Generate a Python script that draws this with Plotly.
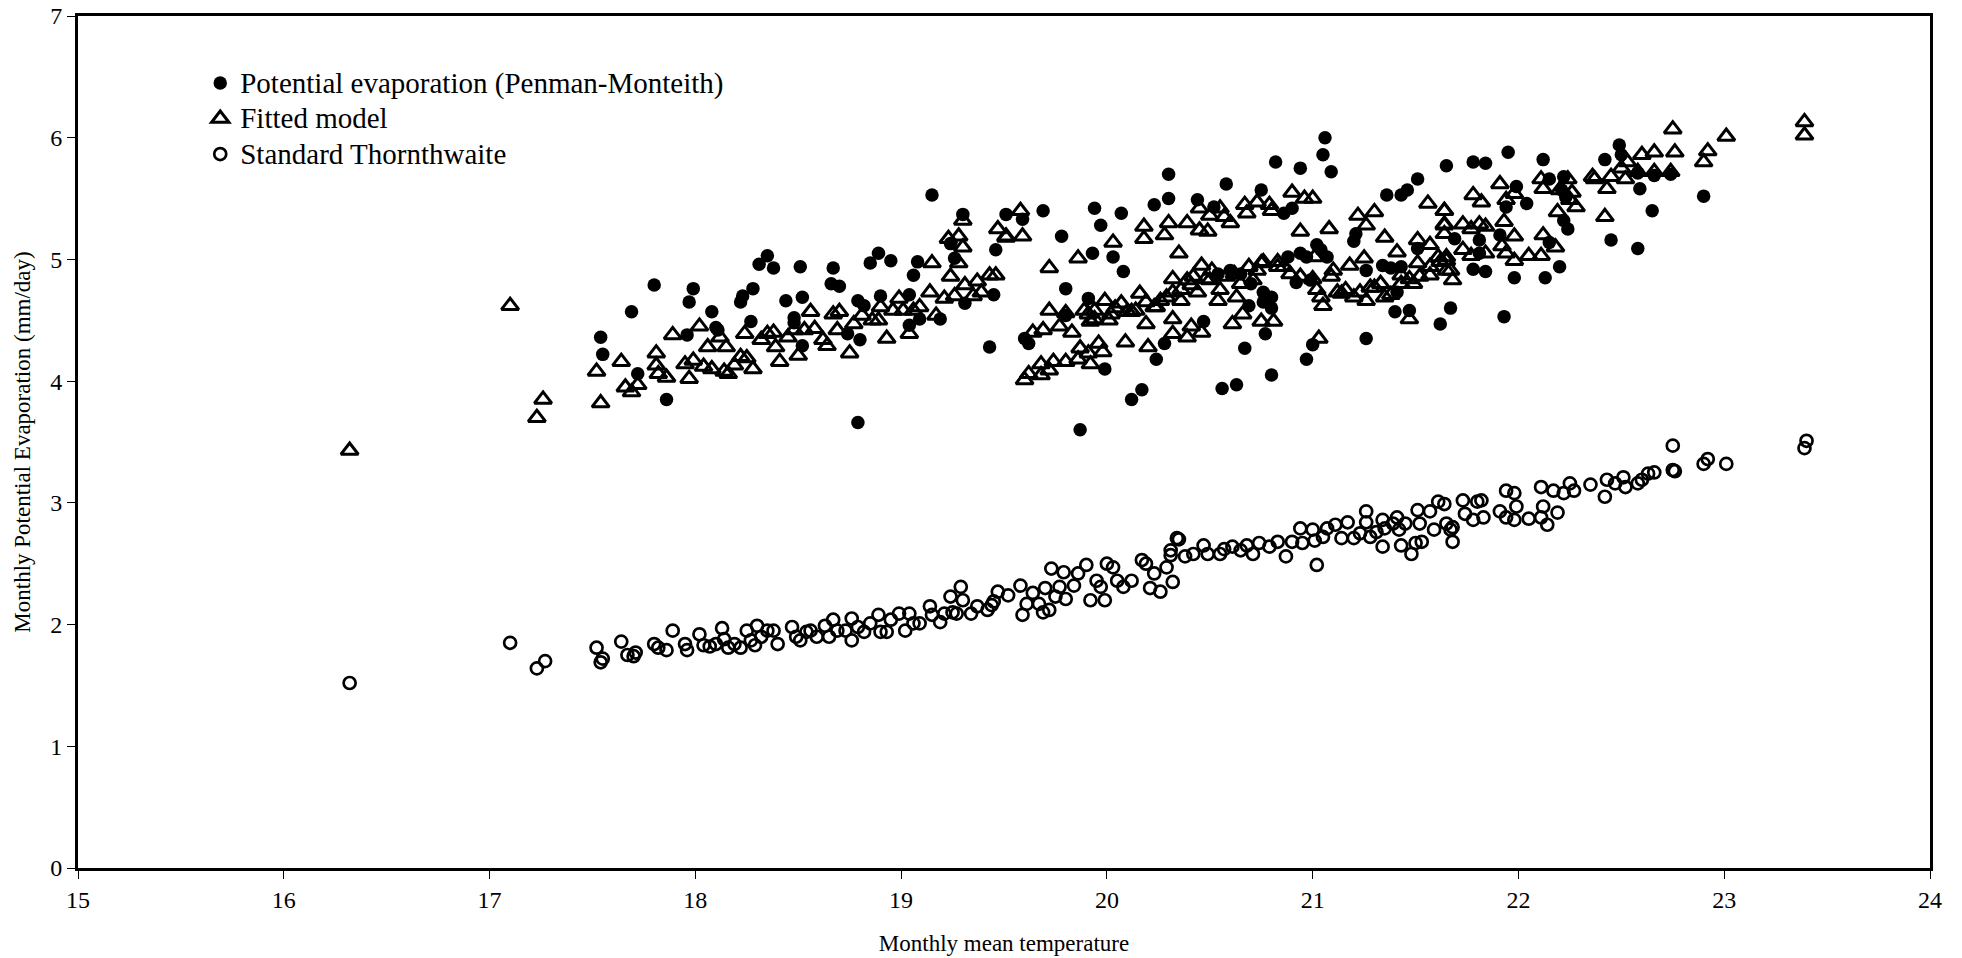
import plotly.graph_objects as go

# ---------------- data ----------------
pm_temp = [17.54, 17.55, 17.69, 17.80, 17.72, 17.86, 17.96, 17.97, 17.99, 18.08, 18.10, 18.11,
           18.22, 18.23, 18.27, 18.28, 18.31, 18.35, 18.38, 18.44, 18.48, 18.48, 18.51, 18.52,
           18.52, 18.66, 18.67, 18.70, 18.74, 18.79, 18.79, 18.80, 18.82, 18.85, 18.89, 18.90,
           18.95, 19.04, 19.04, 19.06, 19.08, 19.09, 19.15, 19.19, 19.24, 19.26, 19.30, 19.31,
           19.43, 19.45, 19.46, 19.51,
           19.59, 19.60, 19.62, 19.69, 19.78, 19.80, 19.80, 19.87, 19.91, 19.93, 19.94, 19.97,
           19.99, 20.03, 20.07, 20.08, 20.12, 20.17, 20.23, 20.24, 20.28, 20.30, 20.30, 20.44,
           20.47, 20.52, 20.54, 20.56, 20.58, 20.60, 20.63, 20.65, 20.67, 20.69, 20.70, 20.75,
           20.76, 20.76, 20.77, 20.80, 20.80, 20.80, 20.82, 20.86, 20.88, 20.90, 20.92, 20.94,
           20.94, 20.97, 20.97, 20.99, 21.00, 21.02, 21.04, 21.05, 21.06, 21.07, 21.09, 21.20,
           21.21, 21.26, 21.26, 21.34, 21.36, 21.38, 21.40, 21.41, 21.43, 21.43, 21.46, 21.47,
           21.51, 21.51, 21.62, 21.65, 21.67,
           21.69, 21.78, 21.78, 21.81, 21.81, 21.84, 21.84, 21.91, 21.93, 21.94, 21.95, 21.98,
           21.99, 22.04, 22.12, 22.13, 22.15, 22.15, 22.20, 22.21, 22.22, 22.22, 22.23, 22.24,
           22.42, 22.45, 22.49, 22.50, 22.58, 22.58, 22.59, 22.65, 22.66, 22.74, 22.90]
pm_evap = [4.36, 4.22, 4.57, 4.79, 4.06, 3.85, 4.38, 4.65, 4.76, 4.57, 4.44, 4.42,
           4.65, 4.70, 4.49, 4.76, 4.96, 5.03, 4.93, 4.66, 4.52, 4.48, 4.94, 4.69,
           4.29, 4.80, 4.93, 4.78, 4.39, 4.66, 3.66, 4.34, 4.62, 4.97, 5.05, 4.70,
           4.99, 4.71, 4.46, 4.87, 4.98, 4.51, 5.53, 4.51, 5.13, 5.01, 5.37, 4.64,
           4.28, 4.71, 5.08, 5.37,
           5.33, 4.35, 4.31, 5.40, 5.19, 4.76, 4.54, 3.60, 4.68, 5.05, 5.42, 5.28,
           4.10, 5.02, 5.38, 4.90, 3.85, 3.93, 5.45, 4.18, 4.31, 5.70, 5.50, 5.49,
           4.49, 5.43, 4.88, 3.94, 5.62, 4.91, 3.97, 4.88, 4.27, 4.62, 4.80, 5.57,
           4.65, 4.73, 4.39, 4.60, 4.05, 4.69, 5.80, 5.38, 5.02, 5.42, 4.81, 5.75,
           5.05, 4.18, 5.02, 4.83, 4.30, 5.12, 5.08, 5.86, 6.00, 5.02, 5.72, 5.15,
           5.21, 4.35, 4.91, 4.95, 5.53, 4.93, 4.57, 4.73, 4.94, 5.53, 5.57, 4.58,
           5.66, 5.09, 4.47, 5.77, 4.60,
           5.17, 5.80, 4.92, 5.16, 5.05, 4.90, 5.79, 5.20, 4.53, 5.43, 5.88, 4.85,
           5.60, 5.46, 5.82, 4.85, 5.14, 5.66, 4.94, 5.57, 5.68, 5.32, 5.51, 5.25,
           5.82, 5.16, 5.94, 5.86, 5.09, 5.71, 5.58, 5.40, 5.69, 5.70, 5.52]

fit_temp = [16.32, 17.10, 17.23, 17.26,
            17.52, 17.54, 17.64, 17.66, 17.69, 17.72, 17.81, 17.81, 17.82, 17.86, 17.89, 17.97,
            17.95, 17.99, 18.02, 18.04, 18.06, 18.08, 18.12, 18.15, 18.14, 18.16, 18.19, 18.22,
            18.24, 18.25, 18.28, 18.32, 18.35, 18.38, 18.39, 18.41, 18.45, 18.48, 18.50, 18.53,
            18.56, 18.58, 18.62, 18.64, 18.67, 18.69, 18.70, 18.75, 18.77, 18.81, 18.86, 18.89,
            18.90, 18.93, 18.96, 18.99, 19.01, 19.04, 19.06, 19.09, 19.14, 19.15, 19.17, 19.21,
            19.23, 19.24, 19.26, 19.28, 19.28, 19.30, 19.30, 19.31, 19.35, 19.37, 19.39, 19.43,
            19.46, 19.47, 19.51,
            19.58, 19.51, 19.59, 19.72, 19.86, 20.03, 19.72, 19.80, 19.77, 19.83, 19.64, 19.69,
            19.60, 19.62, 19.68, 19.68, 19.72, 19.74, 19.80, 19.87, 19.86, 19.91, 19.92, 19.96,
            19.98, 19.91, 19.92, 19.94, 19.99, 20.02, 20.04, 20.07, 20.09, 20.12, 20.16, 20.19,
            20.19, 20.20, 20.24, 20.18, 20.18, 20.28, 20.30, 20.32, 20.32, 20.32, 20.35, 20.36,
            20.39, 20.39, 20.41, 20.42, 20.45, 20.45, 20.46, 20.46, 20.49, 20.50, 20.50, 20.54,
            20.55, 20.57, 20.60, 20.61, 20.63, 20.66, 20.67, 20.68, 20.71, 20.73, 20.75, 20.75,
            20.79, 20.80, 20.81, 20.83, 20.90, 20.94, 20.96, 21.00, 21.01, 21.02, 21.05, 21.03,
            21.08, 21.10, 21.14, 21.18, 21.20, 21.22, 21.25, 21.26, 21.26, 21.30, 21.30, 21.35,
            21.35, 21.41, 21.43, 21.47, 21.49, 21.51, 21.51, 21.56, 21.57, 21.57, 21.61, 21.64,
            21.64, 21.65,
            20.29, 20.32, 20.36, 20.39, 20.41, 20.44, 20.48, 20.51, 20.55, 20.58, 20.62, 20.65,
            20.69, 20.73, 20.76, 20.83, 20.86, 20.89, 20.94, 21.00, 21.04, 21.09, 21.12, 21.16,
            21.23, 21.28, 21.33, 21.38, 21.43, 21.47, 21.52, 21.57, 21.62, 21.65,
            19.89, 19.94, 20.01, 20.10, 20.14, 20.23, 20.26,
            21.64, 21.64, 21.64, 21.73, 21.77, 21.81, 21.84, 21.73, 21.77, 21.84, 21.65, 21.67,
            21.68, 21.78, 21.82, 21.91, 21.93, 21.94, 21.98, 21.98, 21.92, 21.94, 21.98, 22.05,
            22.11, 22.12, 22.11, 22.12, 22.18, 22.19, 22.20, 22.24, 22.26, 22.28, 22.25, 22.36,
            22.37, 22.42, 22.43, 22.45, 22.50, 22.52, 22.53, 22.58, 22.60, 22.66, 22.66, 22.74,
            22.75, 22.76, 22.90, 22.92, 23.01, 23.39, 23.39]
fit_evap = [3.43, 4.62, 3.70, 3.85,
            4.08, 3.82, 4.16, 3.95, 3.91, 3.97, 4.23, 4.13, 4.06, 4.03, 4.38, 4.02,
            4.14, 4.17, 4.45, 4.12, 4.28, 4.10, 4.36, 4.28, 4.08, 4.06, 4.13, 4.20,
            4.39, 4.19, 4.10, 4.34, 4.39, 4.40, 4.28, 4.16, 4.36, 4.42, 4.21, 4.42,
            4.57, 4.43, 4.34, 4.29, 4.55, 4.42, 4.57, 4.23, 4.47, 4.54, 4.50, 4.50,
            4.61, 4.35, 4.58, 4.68, 4.58, 4.39, 4.58, 4.61, 4.73, 4.97, 4.54, 4.68,
            5.17, 4.86, 4.70, 5.19, 4.97, 5.32, 5.10, 4.79, 4.70, 4.82, 4.73, 4.87,
            4.87, 5.25, 5.18,
            5.40, 5.19, 5.19, 4.93, 5.01, 5.14, 4.58, 4.56, 4.45, 4.40, 4.40, 4.42,
            4.01, 4.06, 4.14, 4.05, 4.09, 4.16, 4.16, 4.27, 4.18, 4.23, 4.14, 4.31,
            4.24, 4.55, 4.49, 4.58, 4.66, 4.55, 4.60, 4.64, 4.32, 4.57, 4.72, 4.65,
            4.47, 4.28, 4.61, 5.27, 5.17, 5.20, 5.30, 4.84, 4.51, 4.39, 5.05, 4.75,
            5.30, 4.36, 4.45, 4.86, 5.42, 5.24, 4.95, 4.40, 5.23, 5.36, 4.83, 4.66,
            5.42, 5.35, 5.30, 4.47, 4.69, 4.55, 5.45, 5.38, 4.83, 5.47, 4.97, 4.49,
            5.45, 5.40, 4.49, 4.94, 5.55, 5.23, 5.50, 5.50, 5.02, 4.75, 4.62, 4.35,
            5.25, 4.91, 4.72, 4.95, 4.69, 5.36, 5.01, 5.28, 4.66, 5.39, 4.77, 5.18,
            4.69, 5.06, 4.87, 4.51, 4.80, 5.16, 4.97, 5.46, 5.12, 4.87, 5.02, 5.40,
            5.28, 4.91,
            4.69, 4.73, 4.66, 4.83, 4.79, 4.73, 4.84, 4.91, 4.75, 4.86, 4.88, 4.80,
            4.94, 4.91, 4.98, 4.98, 4.94, 4.88, 4.86, 4.84, 4.69, 4.86, 4.73, 4.75,
            4.73, 4.77, 4.80, 4.71, 4.80, 4.84, 4.86, 4.94, 4.98, 5.02,
            4.58, 4.51, 4.50, 4.57, 4.58, 4.61, 4.66,
            5.40, 5.29, 5.21, 5.29, 5.25, 5.29, 5.27, 5.08, 5.03, 5.05, 4.99, 4.91,
            4.83, 5.53, 5.47, 5.62, 5.31, 5.49, 5.54, 5.19, 5.11, 5.05, 4.99, 5.03,
            5.03, 5.20, 5.66, 5.58, 5.10, 5.39, 5.57, 5.66, 5.55, 5.43, 5.49, 5.68,
            5.66, 5.35, 5.58, 5.68, 5.75, 5.66, 5.80, 5.72, 5.86, 5.72, 5.88, 5.72,
            6.07, 5.88, 5.80, 5.89, 6.01, 6.13, 6.02]

thw_temp = [16.32, 17.10, 17.23, 17.27,
            17.52, 17.54, 17.55, 17.64, 17.67, 17.70, 17.71, 17.80, 17.82, 17.86, 17.89, 17.95,
            17.96, 18.02, 18.04, 18.07, 18.10, 18.13, 18.14, 18.16, 18.19, 18.22, 18.25, 18.27,
            18.29, 18.30, 18.32, 18.35, 18.38, 18.40,
            18.47, 18.49, 18.51, 18.54, 18.56, 18.59, 18.63, 18.65, 18.67, 18.69, 18.73, 18.76,
            18.76, 18.79, 18.82, 18.85, 18.89, 18.90, 18.93, 18.95, 18.99, 19.02, 19.04, 19.06,
            19.09, 19.14, 19.15, 19.19, 19.21, 19.25, 19.27, 19.24, 19.29, 19.30, 19.34, 19.37,
            19.42, 19.44, 19.45, 19.47, 19.52, 19.58, 19.59, 19.61, 19.64, 19.67, 19.69, 19.72,
            19.70, 19.73, 19.75, 19.77, 19.79, 19.80, 19.84, 19.86, 19.90, 19.92, 19.95, 19.97,
            19.99, 20.00, 20.03, 20.05, 20.08, 20.12, 20.17, 20.19, 20.21, 20.23, 20.26, 20.29,
            20.31, 20.32, 20.34,
            20.35, 20.31, 20.38, 20.42, 20.47, 20.49, 20.55, 20.57, 20.61, 20.65, 20.68, 20.71,
            20.74, 20.79, 20.83, 20.87, 20.90, 20.94, 20.95, 21.00, 21.01, 21.02, 21.05, 21.07,
            21.11, 21.14, 21.17, 21.20, 21.23, 21.26, 21.26, 21.28, 21.31, 21.34, 21.35, 21.34,
            21.39, 21.41, 21.42, 21.43, 21.45, 21.48, 21.50, 21.51, 21.52, 21.53, 21.57, 21.59,
            21.61, 21.64, 21.65, 21.67, 21.68, 21.68, 21.73, 21.74, 21.78, 21.80, 21.82, 21.83,
            21.91, 21.94, 21.94, 21.98, 21.98, 21.99, 22.05, 22.11, 22.12, 22.11, 22.14, 22.19,
            22.17, 22.22, 22.25, 22.27, 22.35, 22.42, 22.43, 22.47, 22.51, 22.52, 22.58, 22.60,
            22.63, 22.66, 22.75, 22.75, 22.76, 22.90, 22.92, 23.01, 23.39, 23.40]
thw_evap = [1.52, 1.85, 1.64, 1.70,
            1.81, 1.69, 1.72, 1.86, 1.75, 1.74, 1.77, 1.84, 1.81, 1.79, 1.95, 1.84,
            1.79, 1.92, 1.83, 1.82, 1.84, 1.97, 1.88, 1.81, 1.84, 1.81, 1.95, 1.87,
            1.83, 1.99, 1.90, 1.95, 1.95, 1.84,
            1.98, 1.90, 1.87, 1.94, 1.95, 1.90, 1.99, 1.90, 2.04, 1.95, 1.95, 2.05,
            1.87, 1.98, 1.94, 2.01, 2.08, 1.94, 1.94, 2.04, 2.09, 1.95, 2.09, 2.01,
            2.01, 2.15, 2.08, 2.02, 2.09, 2.10, 2.09, 2.23, 2.31, 2.20, 2.09, 2.15,
            2.12, 2.16, 2.19, 2.27, 2.24, 2.32, 2.08, 2.17, 2.26, 2.17, 2.10, 2.12,
            2.30, 2.46, 2.23, 2.31, 2.43, 2.21, 2.32, 2.42, 2.49, 2.20, 2.36, 2.31,
            2.20, 2.50, 2.47, 2.36, 2.31, 2.36, 2.53, 2.50, 2.30, 2.42, 2.27, 2.47,
            2.57, 2.35, 2.71,
            2.70, 2.61, 2.56, 2.58, 2.65, 2.58, 2.58, 2.62, 2.64, 2.61, 2.65, 2.58,
            2.67, 2.64, 2.68, 2.56, 2.68, 2.79, 2.67, 2.78, 2.69, 2.49, 2.72, 2.79,
            2.82, 2.71, 2.84, 2.71, 2.75, 2.93, 2.84, 2.72, 2.76, 2.86, 2.79, 2.64,
            2.83, 2.88, 2.78, 2.65, 2.83, 2.58, 2.67, 2.94, 2.83, 2.68, 2.93, 2.78,
            3.01, 2.99, 2.83, 2.78, 2.80, 2.68, 3.02, 2.91, 2.86, 3.01, 3.02, 2.88,
            2.93, 3.10, 2.88, 3.08, 2.86, 2.97, 2.87, 3.13, 2.97, 2.88, 2.82, 2.92,
            3.10, 3.08, 3.16, 3.10, 3.15, 3.05, 3.19, 3.16, 3.21, 3.13, 3.16, 3.19,
            3.24, 3.25, 3.47, 3.27, 3.26, 3.32, 3.36, 3.32, 3.45, 3.51]

series_names = ["Potential evaporation (Penman-Monteith)", "Fitted model", "Standard Thornthwaite"]
x_ticks = [15, 16, 17, 18, 19, 20, 21, 22, 23, 24]
y_ticks = [0, 1, 2, 3, 4, 5, 6, 7]

FONT = "Liberation Serif, Times New Roman, serif"


def legend_label(text):
    # larger glyphs while keeping the tighter row spacing of the original legend
    return '<span style="font-size:29px">' + text + "</span>"


fig = go.Figure()
fig.add_trace(go.Scatter(
    x=pm_temp, y=pm_evap, mode="markers", name=legend_label(series_names[0]),
    marker=dict(symbol="circle", size=13.5, color="black", line=dict(width=0))))
fig.add_trace(go.Scatter(
    x=fit_temp, y=fit_evap, mode="markers", name=legend_label(series_names[1]),
    marker=dict(symbol="triangle-up-open", size=15, color="black", line=dict(width=3))))
fig.add_trace(go.Scatter(
    x=thw_temp, y=thw_evap, mode="markers", name=legend_label(series_names[2]),
    marker=dict(symbol="circle-open", size=12, color="black", line=dict(width=2.7))))

axis_common = dict(
    showgrid=False, zeroline=False, showline=True, linecolor="black", linewidth=3,
    mirror=True, ticks="outside", ticklen=8, tickwidth=1, tickcolor="black",
    tickfont=dict(family=FONT, size=24, color="black"),
)

fig.update_xaxes(range=[15, 24], tickvals=x_ticks, **axis_common,
                 title=dict(text="Monthly mean temperature",
                            font=dict(family=FONT, size=23, color="black"), standoff=24))
fig.update_yaxes(range=[0, 7], tickvals=y_ticks, **axis_common,
                 title=dict(text="Monthly Potential Evaporation (mm/day)",
                            font=dict(family=FONT, size=23, color="black"), standoff=14))

fig.update_layout(
    width=1962, height=958,
    margin=dict(l=78, r=32, t=16, b=90, autoexpand=False),
    paper_bgcolor="white", plot_bgcolor="white",
    font=dict(family=FONT, color="black"),
    showlegend=True,
    legend=dict(x=0.066, y=0.948, xanchor="left", yanchor="top",
                bgcolor="rgba(0,0,0,0)", borderwidth=0,
                font=dict(family=FONT, size=25, color="black"),
                itemsizing="trace", tracegroupgap=0),
)

fig.write_html("out.html")
